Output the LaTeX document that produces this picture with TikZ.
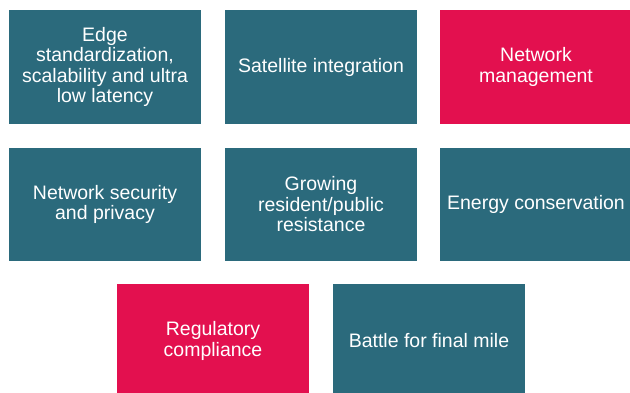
\documentclass[tikz,border=0pt]{standalone}
\usepackage{fontspec}
\setmainfont{Liberation Sans}
\definecolor{tealbg}{HTML}{2B6A7C}
\definecolor{redbg}{HTML}{E3104F}
\tikzset{
  card/.style={rectangle,minimum width=192pt,minimum height=114pt,inner sep=0pt,
    text=white,align=center,font=\fontsize{19.5}{20.5}\selectfont},
  tealcard/.style={card,fill=tealbg},
  redcard/.style={card,fill=redbg}
}
\begin{document}
\begin{tikzpicture}[x=1pt,y=-1pt]
\useasboundingbox (0,0) rectangle (630,393);
\clip (0,0) rectangle (630,393);

% First row
\node[tealcard] (edge) at (105,67) {Edge\\standardization,\\scalability and ultra\\low latency};
\node[tealcard] (sat) at (321,67) {Satellite integration};
\node[redcard] (netmgmt) at (536,67) {Network\\management};

% Second row
\node[tealcard,minimum height=113pt] (security) at (105,204.5) {Network security\\and privacy};
\node[tealcard,minimum height=113pt] (resist) at (321,204.5) {Growing\\resident/public\\resistance};
\node[tealcard,minimum height=113pt] (energy) at (536,204.5) {Energy conservation};

% Third row
\node[redcard] (reg) at (213,341) {Regulatory\\compliance};
\node[tealcard] (mile) at (429,341) {Battle for final mile};

\end{tikzpicture}
\end{document}
